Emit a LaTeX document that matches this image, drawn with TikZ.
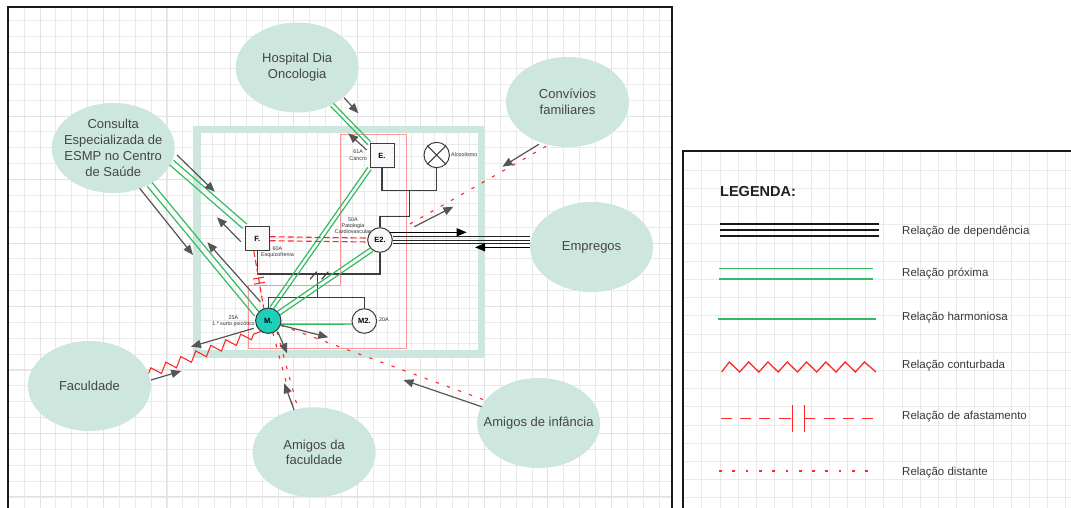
\documentclass[tikz,border=0pt]{standalone}
\usepackage{fontspec}
\setmainfont{Liberation Sans}
\usetikzlibrary{arrows.meta,shapes.geometric,calc,decorations.pathmorphing,decorations.markings}

\definecolor{mint}{RGB}{205,230,222}
\definecolor{turq}{RGB}{30,208,186}
\definecolor{gline}{RGB}{52,186,98}
\definecolor{rline}{RGB}{255,40,40}
\definecolor{garrow}{RGB}{85,85,85}
\definecolor{kin}{RGB}{60,60,60}
\definecolor{txt}{RGB}{70,70,70}
\definecolor{gridmin}{RGB}{234,234,234}
\definecolor{gridmaj}{RGB}{226,226,226}
\definecolor{pinkbox}{RGB}{250,150,150}
\definecolor{pale}{RGB}{248,248,248}

% two parallel strokes between two points, #4 = half distance
\newcommand\twinline[4][]{%
  \draw[#1] ($(#2)!#4!90:(#3)$) -- ($(#3)!#4!-90:(#2)$);
  \draw[#1] ($(#2)!#4!-90:(#3)$) -- ($(#3)!#4!90:(#2)$);}

\begin{document}
\begin{tikzpicture}[x=1pt,y=-1pt,
  ell/.style={ellipse, fill=mint, minimum width=123pt, minimum height=90pt, inner sep=0pt},
  elltext/.style={align=center, font=\fontsize{13}{15.8}\selectfont, text=txt, inner sep=0pt},
  sq/.style={rectangle, draw=kin, fill=pale, line width=1pt, minimum size=24pt, inner sep=0pt,
    font=\bfseries\fontsize{7.5}{9}\selectfont},
  pers/.style={circle, draw=kin, fill=pale, line width=1pt, minimum size=24.6pt, inner sep=0pt,
    font=\bfseries\fontsize{7.5}{9}\selectfont},
  tiny/.style={font=\fontsize{5.4}{6.3}\selectfont, text=black!80, inner sep=0pt, align=center},
  kinline/.style={draw=kin, line width=1.1pt},
  prox/.style={draw=gline, line width=1.2pt},
  harm/.style={draw=gline, line width=1.3pt},
  afast/.style={draw=rline, line width=1.1pt, dash pattern=on 6pt off 3pt},
  dist/.style={draw=rline, line width=1.1pt, dash pattern=on 3.3pt off 8.5pt},
  contur/.style={draw=rline, line width=1.1pt, decorate,
    decoration={zigzag, segment length=16pt, amplitude=4.5pt}},
  influ/.style={draw=garrow, line width=1.2pt, -{Triangle[length=10pt,width=8pt]}},
  depend/.style={draw=black!85, line width=1pt},
  blackarrow/.style={draw=black, line width=1.2pt, -{Triangle[length=10pt,width=8pt]}},
  legtxt/.style={font=\fontsize{11.5}{13}\selectfont, text=black!78, anchor=base west, inner sep=0pt},
]
\useasboundingbox (0,0) rectangle (1071,508);
\fill[white] (0,0) rectangle (1071,508);

% ---------- main sheet: grid and border ----------
\foreach \i in {0,...,40} {\pgfmathsetmacro\gx{24+15.87*\i}
  \draw[gridmin, line width=0.6pt] (\gx,8) -- (\gx,508);}
\foreach \j in {0,...,30} {\pgfmathsetmacro\gy{20.7+15.87*\j}
  \draw[gridmin, line width=0.6pt] (8,\gy) -- (672,\gy);}
\foreach \i in {1,5,...,37} {\pgfmathsetmacro\gx{24+15.87*\i}
  \draw[gridmaj, line width=0.7pt] (\gx,8) -- (\gx,508);}
\foreach \j in {2,6,...,30} {\pgfmathsetmacro\gy{20.7+15.87*\j}
  \draw[gridmaj, line width=0.7pt] (8,\gy) -- (672,\gy);}

% household area with its finer grid
\fill[white] (200.5,133) rectangle (477.8,350.5);
\foreach \i in {1,...,23} {\pgfmathsetmacro\gx{200.5+11.7*\i}
  \draw[gridmin, line width=0.5pt] (\gx,133) -- (\gx,350.5);}
\foreach \j in {1,...,18} {\pgfmathsetmacro\gy{133+11.7*\j}
  \draw[gridmin, line width=0.5pt] (200.5,\gy) -- (477.8,\gy);}
\draw[mint, line width=7.3pt] (197,129.5) rectangle (481.3,354);

\draw[black!90, line width=2pt] (8,515) -- (8,7.3) -- (672,7.3) -- (672,515);

% ---------- legend sheet ----------
\fill[white] (683,151) rectangle (1071,508);
\foreach \i in {0,...,20} {\pgfmathsetmacro\gx{701.7+18.2*\i}
  \draw[gridmin, line width=0.6pt] (\gx,152) -- (\gx,508);}
\foreach \j in {0,...,18} {\pgfmathsetmacro\gy{170+18.2*\j}
  \draw[gridmin, line width=0.6pt] (684,\gy) -- (1071,\gy);}
\draw[black!90, line width=2pt] (683,515) -- (683,151.5) -- (1075,151.5);

\node[font=\bfseries\fontsize{14.5}{16}\selectfont, text=black!88, anchor=base west, inner sep=0pt]
  (legtitle) at (720,196) {LEGENDA:};

\foreach \yy in {224,230,236} \draw[black!90, line width=1.6pt] (720,\yy) -- (879,\yy);
\node[legtxt] (l1) at (902,234) {Relação de dependência};

\foreach \yy in {268.3,279} \draw[gline, line width=1.4pt] (719,\yy) -- (873,\yy);
\node[legtxt] (l2) at (902,276.7) {Relação próxima};

\draw[gline, line width=1.4pt] (718,319) -- (876,319);
\node[legtxt] (l3) at (902,320) {Relação harmoniosa};

\draw[rline, line width=1.3pt, line join=miter] (721.7,372) -- (729.3,362) -- (739.6,372) -- (748.6,362)
  -- (758.9,372) -- (767.9,362) -- (778.2,372) -- (787.2,362) -- (797.5,372) -- (806.5,362)
  -- (816.8,372) -- (825.8,362) -- (836.1,372) -- (845.1,362) -- (855.4,372) -- (864.4,362) -- (876,372);
\node[legtxt] (l4) at (902,368) {Relação conturbada};

\foreach \a/\b in {720.7/731.7, 740/750.7, 759/770, 779/790.5, 804.3/815, 824/835, 843.3/854, 862.3/873.3}
  \draw[rline, line width=1.3pt] (\a,418.3) -- (\b,418.3);
\foreach \a in {792.7,804.3} \draw[rline, line width=1.3pt] (\a,405) -- (\a,432);
\node[legtxt] (l5) at (902,419.7) {Relação de afastamento};

\draw[rline, line width=1.3pt, dash pattern=on 2.7pt off 10.6pt] (719,471) -- (873,471);
\node[legtxt] (l6) at (902,475.7) {Relação distante};

% ---------- ecomap: surrounding systems ----------
\node[ell, label={[elltext]center:Hospital Dia\\Oncologia}] (Hosp) at (297.2,67.5) {};
\node[ell, label={[elltext]center:Convívios\\familiares}] (Conv) at (567.5,102) {};
\node[ell, label={[elltext]center:Consulta\\Especializada de\\ESMP no Centro\\de Saúde}] (Cons) at (113.2,148) {};
\node[ell, label={[elltext]center:Empregos}] (Emp) at (591.6,247) {};
\node[ell, label={[elltext]center:Faculdade}] (Fac) at (89.4,386) {};
\node[ell, label={[elltext]center:Amigos da\\faculdade}] (AmF) at (314.1,452.3) {};
\node[ell, label={[elltext]center:Amigos de infância}] (AmI) at (538.6,423) {};

% outline round the household members
\draw[pinkbox, line width=0.7pt] (340.7,134) -- (406.7,134) -- (406.7,348.3) -- (248.3,348.3)
  -- (248.3,285) -- (340.7,285) -- cycle;

% ---------- family members ----------
\node[tiny, anchor=east] (lblE) at (367,155) {61A\\Cancro};
\node[tiny, anchor=west] (lblA) at (451,155) {Alcoolismo};
\node[tiny] (lblF) at (277.5,252.2) {60A\\Esquizofrenia};
\node[tiny] (lblE2) at (353,225.5) {50A\\Patologia\\Cardiovascular};
\node[tiny] (lblM) at (233.5,321) {25A\\1.º surto psicótico};
\node[tiny] (lblM2) at (384,319.5) {20A};

\node[sq] (E) at (382,156) {E.};
\node[pers, fill=white, minimum size=25.4pt] (Alc) at (436.7,155) {};
\draw[kin, line width=1pt] (Alc.45) -- (Alc.225) (Alc.135) -- (Alc.315);
\node[sq] (F) at (257.2,238.7) {F.};
\node[pers] (E2) at (380,240) {E2.};
\node[pers, fill=turq, draw=black!80, minimum size=25.4pt] (M) at (268.3,320.7) {M.};
\node[pers] (M2) at (364.3,321) {M2.};

% genealogy
\coordinate (ec) at (409.5,190.7);
\coordinate (ecdrop) at (409.5,216.7);
\coordinate (mar) at (317.7,274);
\coordinate (sib) at (317.7,297.3);
\draw[kinline] (E.south) |- (ec) -| (Alc.south);
\draw[kinline] (ec) -- (ecdrop) -| (E2.north);
\draw[kinline] (F.south) |- (mar) -| (E2.south);
\draw[kinline] (mar) -- (sib);
\draw[kinline] (M.north) |- (sib) -| (M2.north);
\draw[kinline] ($(mar)+(-7.7,5.3)$) -- ($(mar)+(-1,-2.3)$);
\draw[kinline] ($(mar)+(4,5.3)$) -- ($(mar)+(10.6,-2.3)$);

% ---------- relations ----------
\twinline[prox]{Hosp.-47.6}{E.north west}{2pt}
\twinline[prox]{Cons.-14.5}{F.north west}{3pt}
\twinline[prox]{Cons.-45.8}{M.150}{3pt}
\twinline[prox]{M.75}{E.south west}{2pt}
\twinline[prox]{M.36}{E2.229}{2.2pt}
\draw[harm] (M.-15) -- (M2.194);

\twinline[afast]{F.east}{E2.west}{2pt}
\draw[afast, postaction={decorate, decoration={markings,
    mark=at position 0.47 with {\draw[rline, solid, line width=1.1pt] (0pt,-5.5pt) -- (0pt,5.5pt);},
    mark=at position 0.56 with {\draw[rline, solid, line width=1.1pt] (0pt,-5.5pt) -- (0pt,5.5pt);}}}]
  (F.-105) -- (M.110);

\draw[contur] (Fac.12) -- (M.235);

\twinline[dist]{M.-60}{AmF.113}{2.2pt}
\draw[dist] (M.-20) -- (AmI.157);
\coordinate (cvs) at (410,224);
\draw[dist] (cvs) -- (Conv.246);

\coordinate (t1) at ([yshift=3.3pt]E2.east);
\coordinate (t2) at (E2.east);
\coordinate (t3) at ([yshift=-3.3pt]E2.east);
\draw[depend] (t1) -- (t1 -| Emp.west);
\draw[depend] (t2) -- (t2 -| Emp.west);
\draw[depend] (t3) -- (t3 -| Emp.west);

% influence arrows
\coordinate (h1) at (344,97.7);   \coordinate (h2) at (358.4,113.3);
\coordinate (h3) at (366.7,150);  \coordinate (h4) at (348.3,133.3);
\coordinate (c1) at (177,155);    \coordinate (c2) at (214.8,191.7);
\coordinate (c3) at (240.8,241.7);\coordinate (c4) at (217,217.3);
\coordinate (c5) at (139.7,188.3);\coordinate (c6) at (193,255);
\coordinate (c7) at (260.3,301.7);\coordinate (c8) at (207.4,242.3);
\coordinate (f1) at (253.8,328.3);\coordinate (f2) at (190.9,346.7);
\coordinate (f3) at (151,380);    \coordinate (f4) at (181.3,371);
\coordinate (a1) at (277.7,331.7);\coordinate (a2) at (287.2,353.3);
\coordinate (a3) at (294.1,410);  \coordinate (a4) at (284.2,383.3);
\coordinate (i1) at (280,325);    \coordinate (i2) at (328.3,337.3);
\coordinate (i3) at (481.6,406.7);\coordinate (i4) at (403.5,380);
\coordinate (v1) at (538.8,144.3);\coordinate (v2) at (502.4,166.7);
\coordinate (v3) at (414.3,226.7);\coordinate (v4) at (453.4,206.7);
\coordinate (e1) at (390,232.3);  \coordinate (e2) at (466.7,232.3);
\coordinate (e3) at (530,247.3);  \coordinate (e4) at (475,247.3);

\foreach \p/\q in {h1/h2, h3/h4, c1/c2, c3/c4, c5/c6, c7/c8, f1/f2, f3/f4,
                   a1/a2, a3/a4, i1/i2, i3/i4, v1/v2, v3/v4}
  \draw[influ] (\p) -- (\q);
\draw[blackarrow] (e1) -- (e2);
\draw[blackarrow] (e3) -- (e4);
\end{tikzpicture}
\end{document}
